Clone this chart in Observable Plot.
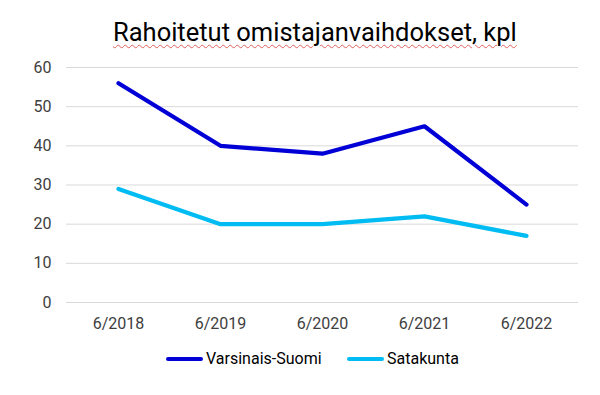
<!DOCTYPE html>
<html><head><meta charset="utf-8">
<script src="https://cdn.jsdelivr.net/npm/d3@7"></script>
<script src="https://cdn.jsdelivr.net/npm/@observablehq/plot@0.6"></script>
<style>
body{margin:0;background:#fff;font-family:Roboto,sans-serif;}
#wrap{width:600px;height:395px;position:relative;overflow:hidden;}
#title{position:absolute;top:17px;left:113px;font-size:25.5px;color:#000;
 text-decoration:underline wavy #e06060;text-decoration-thickness:1px;text-underline-offset:3px;white-space:nowrap;}
#chart{position:absolute;top:55px;left:0;}
.lg{position:absolute;top:349px;font-size:16px;color:#000;display:flex;align-items:center;white-space:nowrap;}
.sw{display:inline-block;width:37px;height:4px;border-radius:2px;margin-right:3px;}
</style></head>
<body><div id="wrap">
<div id="title">Rahoitetut omistajanvaihdokset, kpl</div>
<div id="chart"></div>
</div>
<script>
const categories = ["6/2018","6/2019","6/2020","6/2021","6/2022"];
const seriesNames = ["Varsinais-Suomi","Satakunta"];
const varsinaisSuomi = [56,40,38,45,25];
const satakunta = [29,20,20,22,17];
const yTicks = [0,10,20,30,40,50,60];
const colors = ["#0000d6","#00bcf2"];

const data = [];
categories.forEach((c,i)=>{
  data.push({cat:c, series:seriesNames[0], value:varsinaisSuomi[i]});
  data.push({cat:c, series:seriesNames[1], value:satakunta[i]});
});

const plot = Plot.plot({
  width:600, height:290,
  marginLeft:66, marginRight:22, marginTop:12, marginBottom:43,
  style:{fontFamily:"Roboto, sans-serif", fontSize:"16px", color:"#404040", background:"transparent"},
  x:{type:"point", domain:categories, padding:0.5, label:null},
  y:{domain:[0,60], label:null},
  color:{domain:seriesNames, range:colors},
  marks:[
    Plot.ruleY(yTicks, {stroke:"#d9d9d9", strokeWidth:1}),
    Plot.axisY({ticks:yTicks, tickSize:0, tickPadding:15, label:null, fontSize:16}),
    Plot.axisX({tickSize:0, tickPadding:15, label:null, fontSize:16}),
    Plot.line(data, {x:"cat", y:"value", z:"series", stroke:"series", strokeWidth:4.2, strokeLinecap:"round", strokeLinejoin:"round"})
  ]
});
document.getElementById("chart").appendChild(plot);

const wrap = document.getElementById("wrap");
const legendLeft = [166, 347];
seriesNames.forEach((s,i)=>{
  const item = document.createElement("div");
  item.className = "lg";
  item.style.left = legendLeft[i] + "px";
  item.innerHTML = `<span class="sw" style="background:${colors[i]}"></span>${s}`;
  wrap.appendChild(item);
});
</script>
</body></html>
